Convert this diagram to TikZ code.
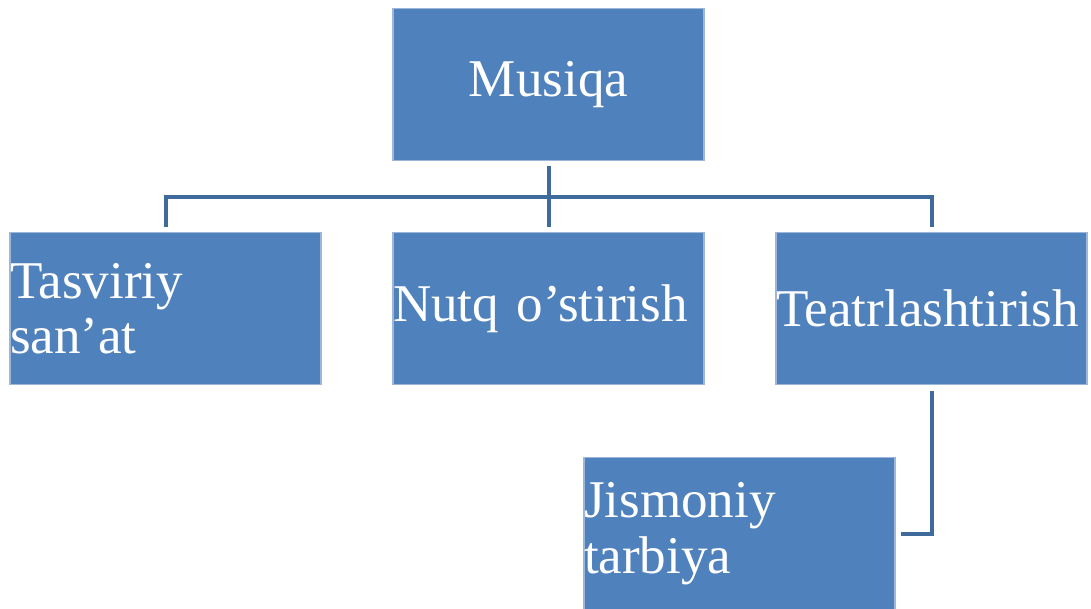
\documentclass[tikz,border=0pt]{standalone}
\usepackage{fontspec}
\setmainfont{Liberation Serif}
\usetikzlibrary{positioning}
\definecolor{boxblue}{HTML}{4F81BD}
\definecolor{boxedge}{HTML}{9DB7DB}
\definecolor{linkblue}{HTML}{3F6A9C}

\begin{document}
\begin{tikzpicture}[
    box/.style={fill=boxblue, draw=boxedge, line width=0.3pt, inner sep=0pt, outer sep=0pt,
      minimum width=3.11cm, minimum height=1.52cm, text width=3.11cm, align=left,
      text=white, font=\fontsize{15.1}{15.8}\selectfont},
    link/.style={draw=linkblue, line width=0.04cm}
  ]
      \useasboundingbox (0,0) rectangle (10.91,-6.09);
        \node[box, align=center] (mus) at (5.485,-0.845) {Musiqa};
        \node[box, below=0.72cm of mus] (nutq) {Nutq o’stirish};
         \node[box, left=0.72cm of nutq] (tas) {Tasviriy\\san’at};
        \node[box, right=0.72cm of nutq] (teatr) {Teatrlashtirish};
         \node[box, below=0.73cm of teatr, xshift=-1.92cm] (jis) {Jismoniy\\tarbiya};
        \draw[link] ([yshift=-0.05cm]mus.south) -- ([yshift=0.06cm]nutq.north);
        \draw[link] ([yshift=0.06cm]tas.north) -- ++(0,0.30) -| ([yshift=0.06cm]teatr.north);
        \draw[link] ([yshift=-0.06cm]teatr.south) |- ([xshift=0.06cm]jis.east);
    \end{tikzpicture}
\end{document}
